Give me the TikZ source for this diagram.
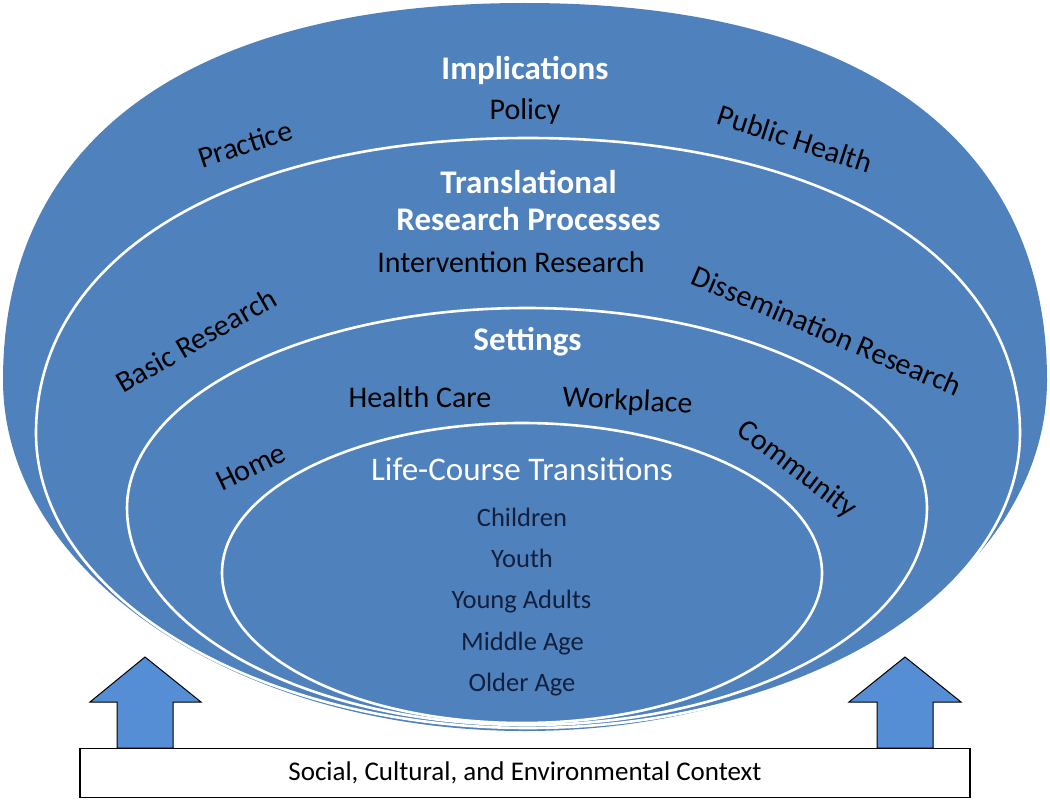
\documentclass[tikz,border=0pt]{standalone}
\usepackage{fontspec}
\setmainfont{Carlito}
\definecolor{ringblue}{RGB}{79,129,189}
\definecolor{arrowblue}{RGB}{85,142,213}
\definecolor{agenavy}{RGB}{18,32,62}
\begin{document}
\begin{tikzpicture}[x=1pt,y=-1pt,
  ring/.style={fill=ringblue, draw=white, line width=2.6pt},
  lbl/.style={text=black, font=\fontsize{30}{36}\selectfont, inner sep=0pt},
  head/.style={text=white, font=\bfseries\fontsize{33}{40}\selectfont, inner sep=0pt, anchor=base},
  lct/.style={text=white, font=\fontsize{33}{40}\selectfont, inner sep=0pt, anchor=base},
  age/.style={text=agenavy, font=\fontsize{26.5}{32}\selectfont, inner sep=0pt, anchor=base},
  barrow/.style={fill=arrowblue, draw=black, line width=1pt, line join=miter},
  ctxbox/.style={draw=black, line width=1.5pt, fill=white, minimum width=890pt, minimum height=49pt, inner sep=0pt, font=\fontsize{27}{32}\selectfont}]
\useasboundingbox (0,0) rectangle (1050,800);
% outer shape
\fill[ringblue] (525,3) .. controls (859.1,3) and (1047,138.7) .. (1047,380)
  .. controls (1047,573.8) and (813.1,731) .. (525,731)
  .. controls (236.9,731) and (3,573.8) .. (3,380)
  .. controls (3,138.7) and (190.9,3) .. (525,3) -- cycle;
% second ring
\path[ring] (528,138) .. controls (823.2,138) and (1020,256) .. (1020,433)
  .. controls (1020,595.8) and (799.6,728) .. (528,728)
  .. controls (256.4,728) and (36,595.8) .. (36,433)
  .. controls (36,256) and (232.8,138) .. (528,138) -- cycle;
% third ring
\path[ring] (527,308) .. controls (747.8,308) and (927,397.6) .. (927,508)
  .. controls (927,627.8) and (747.8,725) .. (527,725)
  .. controls (306.2,725) and (127,627.8) .. (127,508)
  .. controls (127,397.6) and (306.2,308) .. (527,308) -- cycle;
% inner ring
\path[ring] (522,573) ellipse (300pt and 150pt);
% texts
\node[head] (impl) at (525,80) {Implications};
\node[lbl, anchor=base] (policy) at (525,119) {Policy};
\node[lbl, rotate=18] (practice) at (245,144) {Practice};
\node[lbl, rotate=-18] (pubh) at (795,139) {Public Health};
\node[head] (transl) at (528.5,193) {Translational};
\node[head] (rpp) at (528.5,230) {Research Processes};
\node[lbl, anchor=base] (interv) at (511,272) {Intervention Research};
\node[lbl, rotate=30] (basic) at (196,340) {Basic Research};
\node[lbl, rotate=-23] (dissem) at (827,331) {Dissemination Research};
\node[head] (settings) at (527.5,350) {Settings};
\node[lbl, anchor=base] (hcare) at (420,407) {Health Care};
\node[lbl, anchor=base, rotate=-3] (work) at (627,410) {Workplace};
\node[lbl, rotate=26] (home) at (251,467) {Home};
\node[lbl, rotate=-37] (community) at (797,470) {Community};
\node[lct] (lctn) at (522,480) {Life-Course Transitions};
\node[age] (children) at (522,526) {Children};
\node[age] (youth) at (522,567) {Youth};
\node[age] (yadults) at (521.5,608) {Young Adults};
\node[age] (midage) at (522.5,650) {Middle Age};
\node[age] (oldage) at (522,691) {Older Age};
% block arrows
\draw[barrow] (117,748) -- (117,702) -- (90,702) -- (145,657) -- (201,702) -- (173,702) -- (173,748) -- cycle;
\draw[barrow] (877,748) -- (877,702) -- (849,702) -- (905,657) -- (961,702) -- (933,702) -- (933,748) -- cycle;
% context box
\node[ctxbox] (ctx) at (525,773) {Social, Cultural, and Environmental Context};
\end{tikzpicture}
\end{document}
